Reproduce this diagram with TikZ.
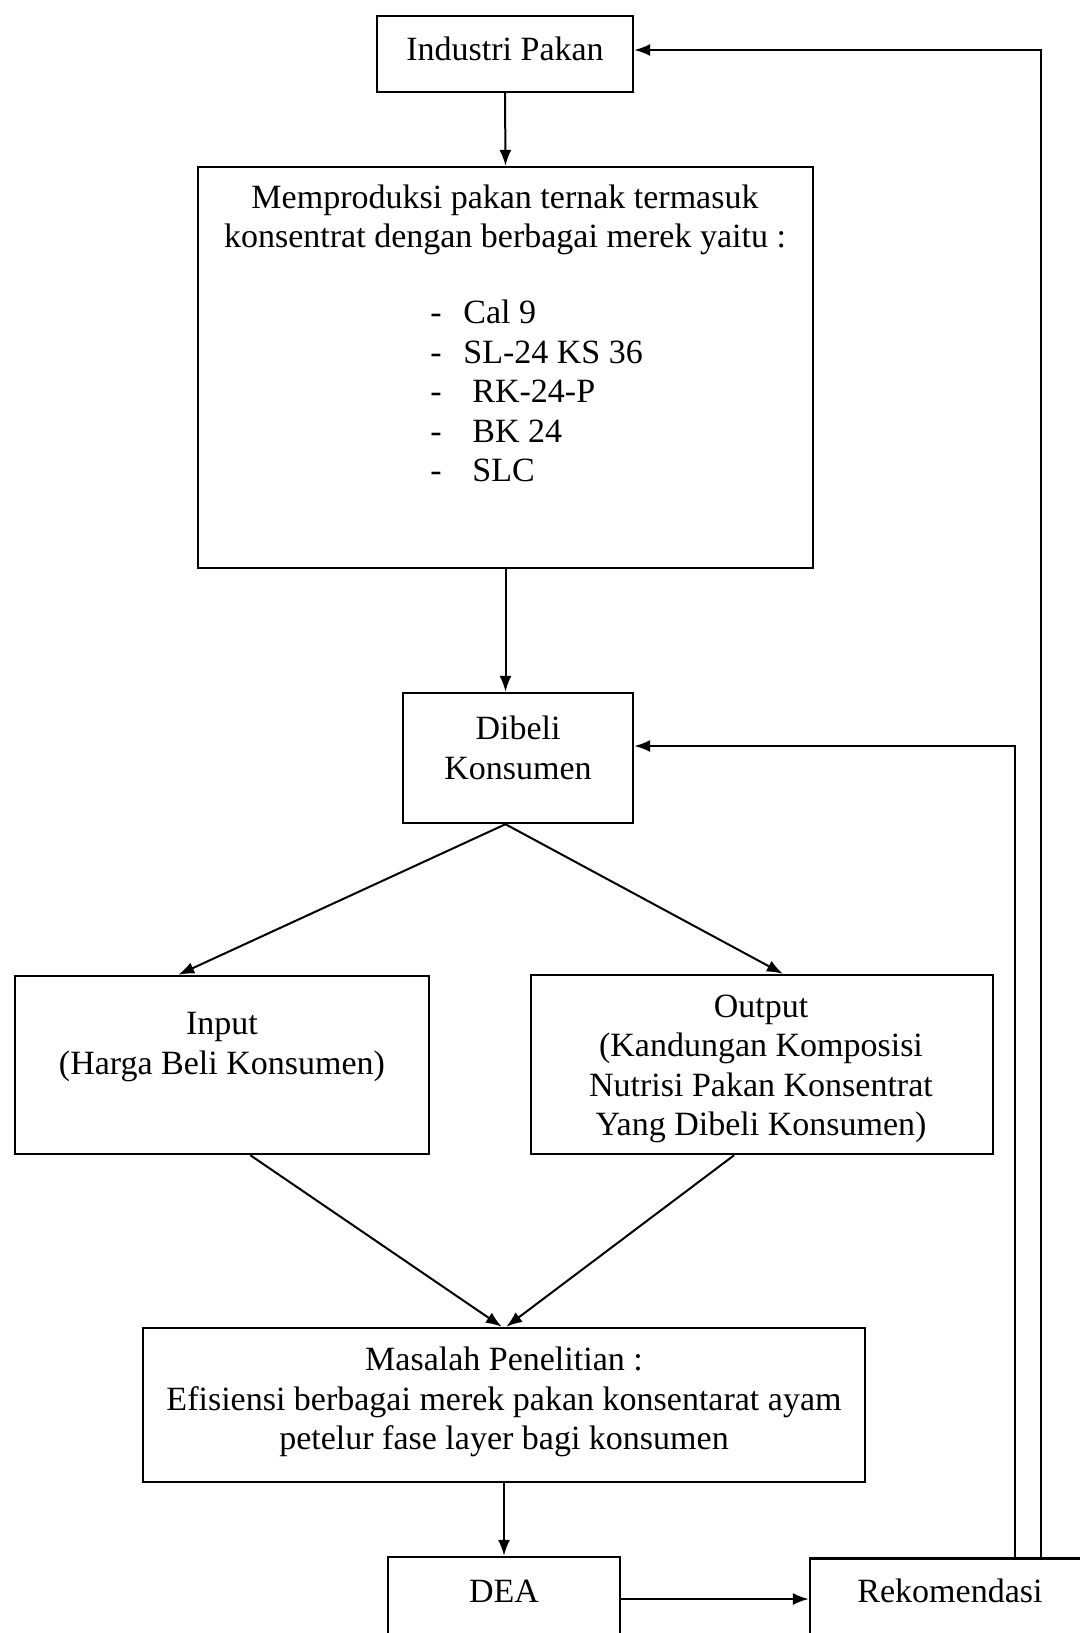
\documentclass[tikz,border=0pt]{standalone}
\usepackage{fontspec}
\setmainfont{Liberation Serif}
\usetikzlibrary{arrows.meta,calc}
\begin{document}
\begin{tikzpicture}[x=0.5pt,y=-0.5pt,
  box/.style={draw=black,line width=1.2pt,inner sep=0pt,fill=none},
  txt/.style={align=center,inner sep=0pt,font=\fontsize{17}{19.7}\selectfont},
  arr/.style={draw=black,line width=1pt,-{Latex[length=8pt,width=6pt]}},
  ln/.style={draw=black,line width=1pt}]
\useasboundingbox (0,0) rectangle (1080,1633);
\clip (0,0) rectangle (1080,1633);
\fill[white] (0,0) rectangle (1080,1633);
% boxes
\node[box,minimum width=128pt,minimum height=38pt] (ind) at (505,54) {};
\node[box,minimum width=307.5pt,minimum height=200.5pt] (prod) at (505.5,367.5) {};
\node[box,minimum width=115pt,minimum height=65pt] (dib) at (518,758) {};
\node[box,minimum width=207pt,minimum height=89pt] (inp) at (222,1065) {};
\node[box,minimum width=231pt,minimum height=89.5pt] (out) at (762,1064.5) {};
\node[box,minimum width=361pt,minimum height=77pt] (mas) at (504,1405) {};
\node[box,minimum width=116pt,minimum height=51pt] (dea) at (504,1608) {};
\node[box,minimum width=145pt,minimum height=50.5pt] (rek) at (955,1609) {};
% texts
\node[txt] (tind) at (505,49) {Industri Pakan};
\node[txt] (tprod) at (505,220) {Memproduksi pakan ternak termasuk\\konsentrat dengan berbagai merek yaitu :};
\node[txt,align=left,anchor=west] (tlist) at (430,391) {\makebox[16.5pt][l]{-}Cal 9\\
\makebox[16.5pt][l]{-}SL-24 KS 36\\
\makebox[21pt][l]{-}RK-24-P\\
\makebox[21pt][l]{-}BK 24\\
\makebox[21pt][l]{-}SLC};
\node[txt] (tdib) at (518,748) {Dibeli\\Konsumen};
\node[txt] (tinp) at (222,1047) {Input\\(Harga Beli Konsumen)};
\node[txt] (tout) at (761,1069) {Output\\(Kandungan Komposisi\\Nutrisi Pakan Konsentrat\\Yang Dibeli Konsumen)};
\node[txt] (tmas) at (504,1402) {Masalah Penelitian :\\Efisiensi berbagai merek pakan konsentarat ayam\\petelur fase layer bagi konsumen};
\node[txt] (tdea) at (504,1591) {DEA};
\node[txt] (trek) at (950,1591) {Rekomendasi};
% connectors
\coordinate (ox) at (1041,0);
\coordinate (ix) at (1015,0);
\draw[arr] (ind.south) -- (prod.north);
\draw[arr] (prod.south) -- (prod.south |- dib.north);
\coordinate (dtop) at (dib.south -| prod.south);
\draw[arr] (dtop) -- ($(inp.north west)!0.395!(inp.north east)$);
\draw[arr] (dtop) -- ($(out.north west)!0.545!(out.north east)$);
\draw[arr] ($(inp.south west)!0.568!(inp.south east)$) -- ($(mas.north west)!0.497!(mas.north east)$);
\draw[arr] ($(out.south west)!0.44!(out.south east)$) -- ($(mas.north west)!0.503!(mas.north east)$);
\draw[arr] (mas.south) -- (dea.north);
\draw[arr] ([yshift=4.5pt]dea.east) -- ([yshift=4.5pt]dea.east -| rek.west);
\draw[arr] (rek.north -| ox) |- ([yshift=2pt]ind.east);
\draw[arr] (rek.north -| ix) |- ([yshift=6pt]dib.east);
\end{tikzpicture}
\end{document}
